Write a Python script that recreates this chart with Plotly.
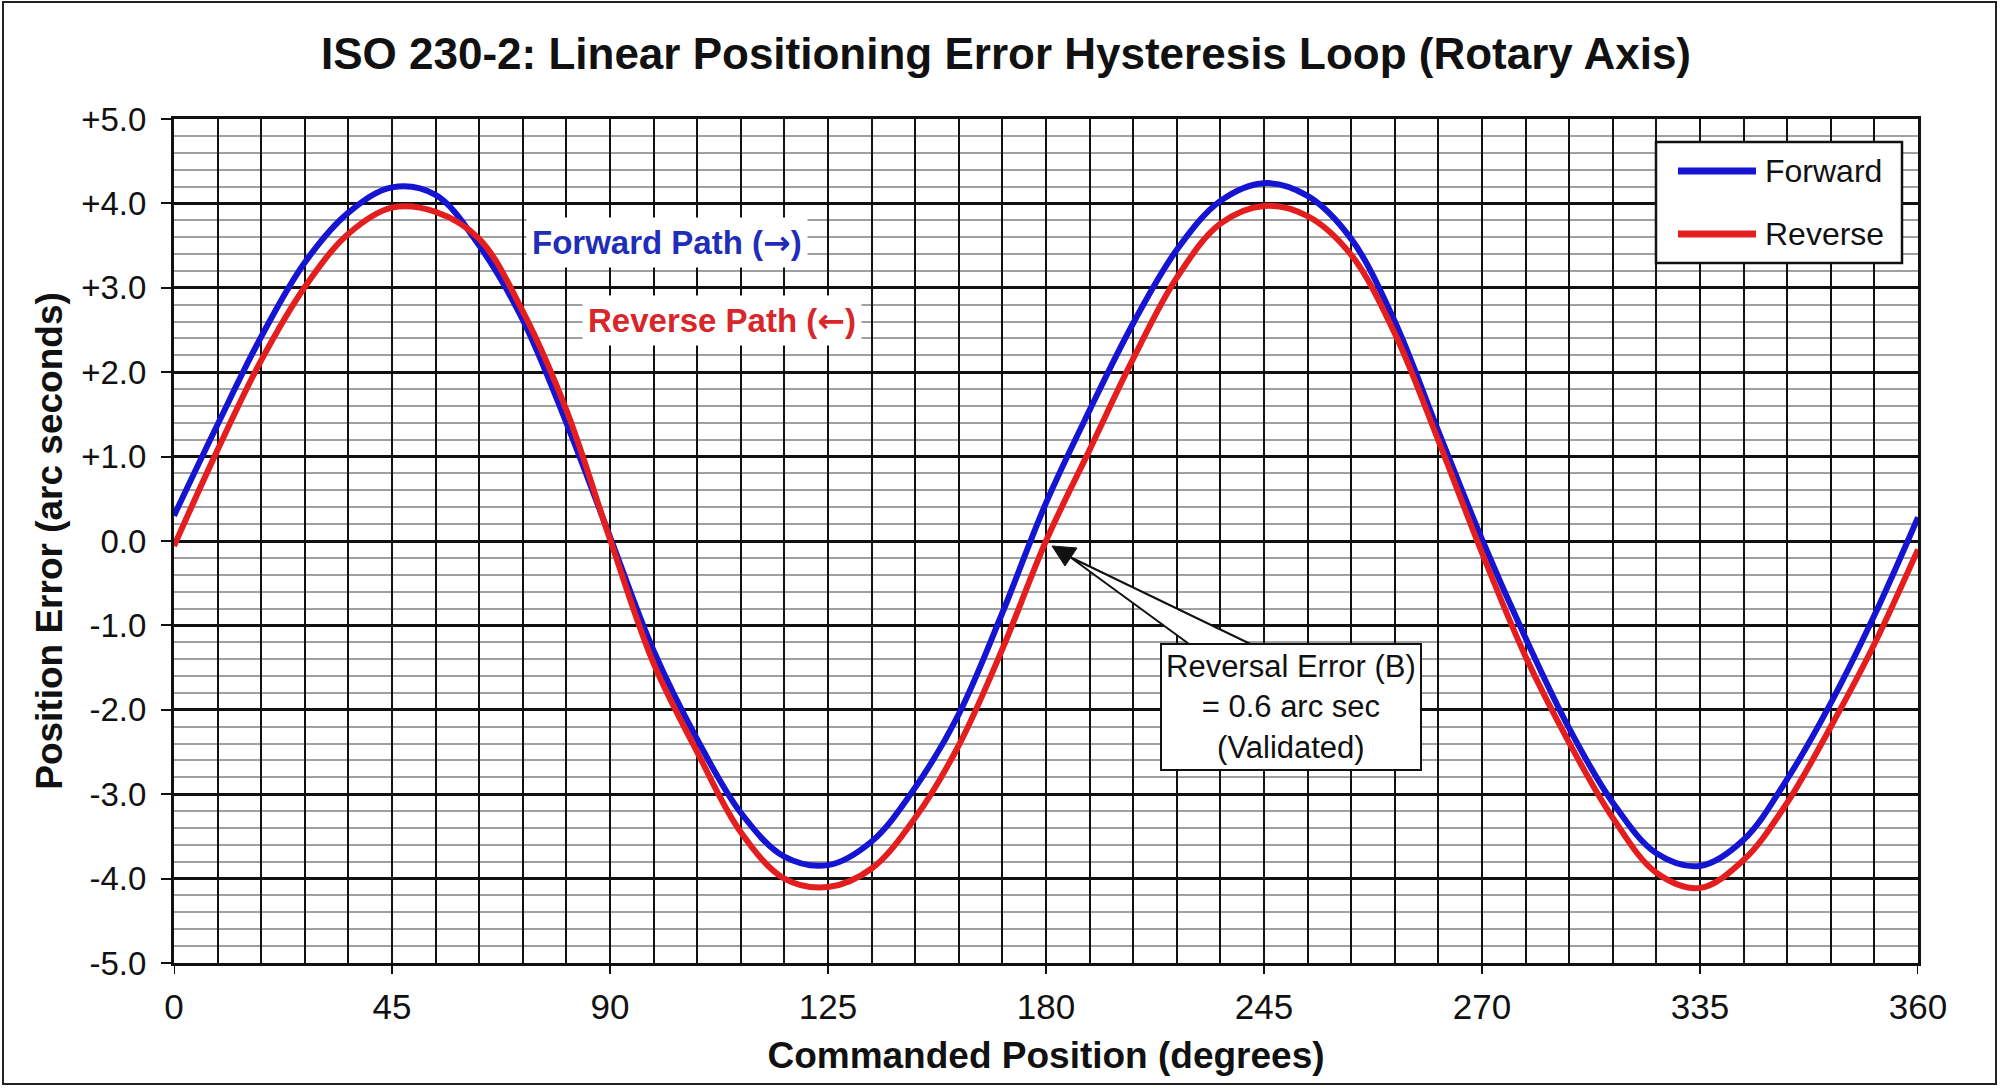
import plotly.graph_objects as go

# ---------------- data ----------------
positions = [0, 9, 18, 27, 36, 45, 54, 63, 72, 81, 90, 99, 108, 117, 126, 135,
             144, 153, 162, 171, 180, 189, 198, 207, 216, 225, 234, 243, 252,
             261, 270, 279, 288, 297, 306, 315, 324, 333, 342, 351, 360]
forward_err = [0.30, 1.38, 2.42, 3.30, 3.89, 4.19, 4.10, 3.50, 2.62, 1.40, 0.05,
               -1.30, -2.35, -3.22, -3.74, -3.84, -3.56, -2.92, -2.05, -0.85, 0.45,
               1.55, 2.58, 3.45, 4.03, 4.24, 4.09, 3.58, 2.60, 1.30, 0.02,
               -1.15, -2.22, -3.10, -3.70, -3.85, -3.54, -2.82, -1.92, -0.88, 0.28]
reverse_err = [-0.06, 1.08, 2.14, 3.01, 3.64, 3.95, 3.90, 3.58, 2.72, 1.55, 0.02,
               -1.45, -2.50, -3.45, -4.00, -4.10, -3.88, -3.28, -2.42, -1.28, 0.00,
               1.08, 2.16, 3.12, 3.76, 3.97, 3.85, 3.39, 2.46, 1.19, -0.14,
               -1.37, -2.39, -3.28, -3.93, -4.11, -3.78, -3.10, -2.20, -1.22, -0.10]

x_tick_vals = [0, 45, 90, 135, 180, 225, 270, 315, 360]
x_tick_text = ["0", "45", "90", "125", "180", "245", "270", "335", "360"]
x_grid_step = 9
y_tick_vals = [-5, -4, -3, -2, -1, 0, 1, 2, 3, 4, 5]
y_tick_text = ["-5.0", "-4.0", "-3.0", "-2.0", "-1.0", "0.0",
               "+1.0", "+2.0", "+3.0", "+4.0", "+5.0"]

series_names = ["Forward", "Reverse"]

# ---------------- layout geometry ----------------
W, H = 2000, 1091
ML, MR, MT, MB = 174, 82, 119, 128
PW, PH = W - ML - MR, H - MT - MB

def px(xp):
    return (xp - ML) / PW

def py(yp):
    return (H - MB - yp) / PH

BLUE = "#1414d2"
RED = "#e41e1e"
INK = "#111111"
FONT = "Liberation Sans, Arial, sans-serif"
ARROW = "<span style=\"font-family:'DejaVu Sans'\">%s</span>"

# all vertical grid positions; only some of them carry a label
grid_vals = list(range(0, 361, x_grid_step))
grid_text = [x_tick_text[x_tick_vals.index(v)] if v in x_tick_vals else "" for v in grid_vals]

fig = go.Figure()
fig.add_trace(go.Scatter(x=positions, y=forward_err, mode="lines", name=series_names[0],
                         line=dict(color=BLUE, width=6, shape="spline", smoothing=1.0),
                         showlegend=False))
fig.add_trace(go.Scatter(x=positions, y=reverse_err, mode="lines", name=series_names[1],
                         line=dict(color=RED, width=6, shape="spline", smoothing=1.0),
                         showlegend=False))

shapes = []
# outer frame
shapes.append(dict(type="rect", xref="paper", yref="paper",
                   x0=px(3), x1=px(1996), y0=py(1084), y1=py(2),
                   line=dict(color="#222", width=2), fillcolor="rgba(0,0,0,0)", layer="below"))
# outside tick marks at the labelled x positions only
for v in x_tick_vals:
    shapes.append(dict(type="line", xref="x", yref="paper", x0=v, x1=v,
                       y0=0, y1=-11 / PH, line=dict(color=INK, width=2), layer="above"))
# manual legend
shapes.append(dict(type="rect", xref="paper", yref="paper",
                   x0=px(1656), x1=px(1902), y0=py(263), y1=py(142),
                   line=dict(color=INK, width=2.5), fillcolor="white", layer="above"))
shapes.append(dict(type="line", xref="paper", yref="paper",
                   x0=px(1678), x1=px(1756), y0=py(171), y1=py(171),
                   line=dict(color=BLUE, width=7), layer="above"))
shapes.append(dict(type="line", xref="paper", yref="paper",
                   x0=px(1678), x1=px(1756), y0=py(234), y1=py(234),
                   line=dict(color=RED, width=7), layer="above"))

def pth(points):
    return "M " + " L ".join(f"{px(a):.5f},{py(b):.5f}" for a, b in points) + " Z"

# callout wedge + arrowhead
shapes.append(dict(type="path", xref="paper", yref="paper",
                   path=pth([(1200, 652), (1070, 557), (1267, 652)]),
                   line=dict(color=INK, width=2), fillcolor="white", layer="above"))
shapes.append(dict(type="path", xref="paper", yref="paper",
                   path=pth([(1052, 546), (1077, 548), (1065, 566)]),
                   line=dict(color=INK, width=1), fillcolor=INK, layer="above"))

annotations = []
annotations.append(dict(xref="paper", yref="paper", x=px(1763), y=py(171),
                        xanchor="left", yanchor="middle", showarrow=False,
                        text=series_names[0], font=dict(family=FONT, size=32, color=INK)))
annotations.append(dict(xref="paper", yref="paper", x=px(1763), y=py(234),
                        xanchor="left", yanchor="middle", showarrow=False,
                        text=series_names[1], font=dict(family=FONT, size=32, color=INK)))
annotations.append(dict(xref="paper", yref="paper", x=px(667), y=py(242),
                        xanchor="center", yanchor="middle",
                        showarrow=False, text="<b>Forward Path (" + ARROW % "→" + ")</b>",
                        font=dict(family=FONT, size=33, color="#1f2eb8"),
                        bgcolor="white", borderpad=5))
annotations.append(dict(xref="paper", yref="paper", x=px(722), y=py(320),
                        xanchor="center", yanchor="middle",
                        showarrow=False, text="<b>Reverse Path (" + ARROW % "←" + ")</b>",
                        font=dict(family=FONT, size=33, color="#d8262a"),
                        bgcolor="white", borderpad=5))
annotations.append(dict(xref="paper", yref="paper", x=px(1291), y=py(707),
                        xanchor="center", yanchor="middle",
                        showarrow=False,
                        text="Reversal Error (B)<br>= 0.6 arc sec<br>(Validated)",
                        font=dict(family=FONT, size=31, color=INK),
                        bgcolor="white", bordercolor=INK, borderwidth=2, borderpad=4))

fig.update_layout(
    width=W, height=H,
    margin=dict(l=ML, r=MR, t=MT, b=MB, pad=0),
    paper_bgcolor="white", plot_bgcolor="white",
    font=dict(family=FONT, color=INK),
    title=dict(text="<b>ISO 230-2: Linear Positioning Error Hysteresis Loop (Rotary Axis)</b>",
               x=0.503, xref="container", xanchor="center", y=1 - 54 / H, yref="container",
               yanchor="middle", font=dict(family=FONT, size=44, color=INK)),
    shapes=shapes, annotations=annotations, showlegend=False,
)

fig.update_xaxes(
    range=[0, 360], tickmode="array", tickvals=grid_vals, ticktext=grid_text,
    ticks="", ticklabelstandoff=11,
    tickfont=dict(family=FONT, size=35, color=INK),
    showgrid=True, gridcolor=INK, gridwidth=2,
    showline=True, linecolor=INK, linewidth=3, mirror=True, zeroline=False,
    title=dict(text="<b>Commanded Position (degrees)</b>",
               font=dict(family=FONT, size=37, color=INK), standoff=18),
)
fig.update_yaxes(
    range=[-5, 5], tickmode="array", tickvals=y_tick_vals, ticktext=y_tick_text,
    ticks="outside", ticklen=10, tickwidth=2, tickcolor=INK,
    tickfont=dict(family=FONT, size=33, color=INK),
    ticklabelstandoff=8,
    showgrid=True, gridcolor=INK, gridwidth=2.5,
    minor=dict(dtick=0.2, tick0=0, showgrid=True, gridcolor="#a0a0a0", gridwidth=1.5, ticks=""),
    showline=True, linecolor=INK, linewidth=3, mirror=True, zeroline=False,
    title=dict(text="<b>Position Error (arc seconds)</b>",
               font=dict(family=FONT, size=37, color=INK), standoff=8),
)

fig.write_html("out.html")
